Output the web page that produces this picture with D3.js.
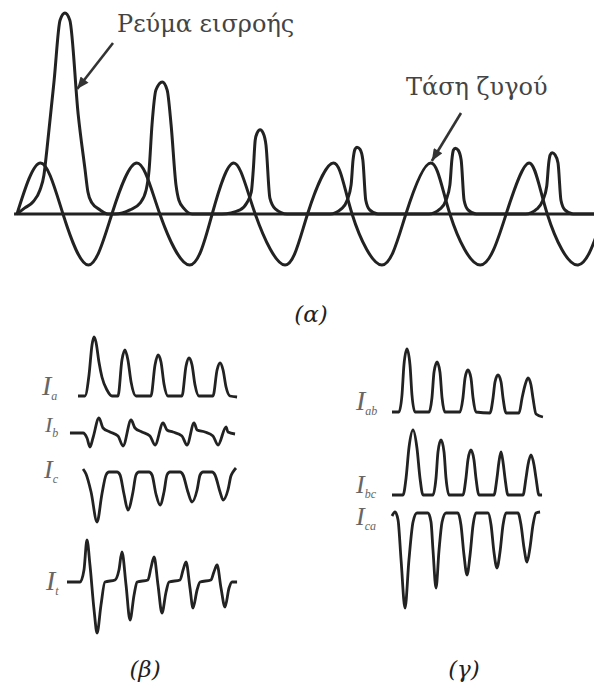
<!DOCTYPE html>
<html>
<head>
<meta charset="utf-8">
<script src="https://cdn.jsdelivr.net/npm/d3@7/dist/d3.min.js"></script>
<style>
html, body { margin: 0; padding: 0; background: #fff; }
svg { display: block; }
</style>
</head>
<body>
<svg></svg>
<script>
// (α) time in ms, bus voltage and inrush current in p.u. of voltage peak
var busVoltage = [[0,0],[4.8,1],[9.4,0],[14.6,-1],[19.4,0],[24.5,1],[29.2,0],[35.3,-1],[39.9,0],[44.3,1],[48.7,0],[54.8,-1],[59.4,0],[64.7,1],[68.5,0],[74.6,-1],[79.5,0],[84.6,1],[88.5,0],[94.7,-1],[100,0],[104.7,1],[108.4,0],[114.7,-1],[120,0],[124.7,1]];
var inrushCurrent = [
  [0,0],[1.6,0.12],[3.3,0.24],[4.7,0.47],[5.5,0.76],[6.1,1.25],[7.6,2.63],[8.8,3.8],[9.8,3.94],[10.8,3.8],[12.5,1.96],[13.9,0.88],[14.5,0.43],[15.3,0.22],[17,0.08],[18.6,0],
  [20,0],[23.1,0.08],[25.2,0.22],[26.4,0.47],[27,0.86],[27.6,1.75],[28.4,2.43],[29.7,2.59],[30.7,2.43],[31.5,1.75],[32.5,0.57],[33.1,0.27],[34.2,0.1],[35.8,0],
  [41.9,0],[45.6,0.08],[47,0.22],[47.9,0.43],[48.3,0.86],[48.7,1.45],[49.1,1.59],[49.7,1.65],[50.3,1.59],[50.9,1.35],[51.7,0.31],[52.8,0.1],[55.2,0],
  [64,0],[66.3,0.1],[67.5,0.27],[68.3,0.57],[68.7,1.06],[69.1,1.27],[69.5,1.31],[70.1,1.27],[70.7,1.06],[71.3,0.27],[72.1,0.08],[73.8,0],
  [84.2,0],[86.5,0.1],[87.7,0.27],[88.5,0.57],[88.9,1.06],[89.2,1.25],[89.6,1.29],[90.2,1.25],[90.8,1.06],[91.4,0.27],[92.2,0.08],[93.9,0],
  [104,0],[106.3,0.1],[107.5,0.27],[108.3,0.55],[108.7,1.0],[109,1.16],[109.4,1.2],[110,1.16],[110.6,1.0],[111.2,0.27],[112,0.08],[113.7,0],[122,0]
];

// (β) line currents, time in ms
var currentA = [[0,0],[4.4,0],[7,0.42],[8.9,1.02],[10.2,1.18],[11.4,1.08],[13.3,0.68],[15.2,0.38],[18.4,0.12],[21.6,0],
  [25.4,0],[27.9,0.72],[29.8,0.92],[31.7,0.72],[33.7,0.28],[36.8,0],
  [46.3,0],[48.9,0.62],[50.8,0.82],[52.7,0.68],[54.6,0.24],[57.1,0],
  [66,0],[68.6,0.6],[70.5,0.76],[72.4,0.62],[74.3,0.22],[76.8,0],
  [85.7,0],[88.3,0.52],[90.2,0.66],[92.1,0.52],[94,0.18],[96.5,0],[101,-0.02]];
var currentB = [[-5.1,0],[3.2,0],[5.7,-0.1],[7.6,-0.28],[9.5,-0.1],[13.3,0.3],[15.9,0.1],[20.3,0.02],[25.4,-0.06],
  [28.6,-0.26],[33.7,0.26],[36.2,0.1],[40.6,0.02],[45.7,-0.06],
  [48.9,-0.24],[54,0.2],[56.5,0.06],[60.3,0.02],[66,-0.06],
  [69.2,-0.24],[73.7,0.2],[75.6,0.06],[80.6,0.02],[85.7,-0.06],
  [88.9,-0.24],[94,0.12],[95.2,0.02],[99.7,-0.02]];
var currentC = [[3.2,0.06],[5.1,-0.04],[8.3,-0.4],[12.1,-1],[15.2,-0.44],[17.8,-0.06],[19.7,0],
  [24.8,0],[26.7,-0.06],[29.2,-0.44],[31.7,-0.76],[34.9,-0.4],[36.8,-0.06],[38.7,0],
  [45.1,0],[47,-0.06],[49.5,-0.44],[52.1,-0.66],[54.6,-0.4],[56.5,-0.06],[58.4,0],
  [64.8,0],[66.7,-0.06],[69.8,-0.4],[72.4,-0.6],[75.6,-0.36],[77.5,-0.06],[79.4,0],
  [85.1,0],[87,-0.06],[90.2,-0.4],[92.1,-0.56],[95.2,-0.36],[97.1,-0.08],[98.4,0],[100.3,0.08]];
var currentT = [[-7,0],[1.3,0],[3.8,0.24],[5.7,0.84],[7.6,0.34],[10.2,-0.56],[12.1,-1.02],[14.6,-0.46],[17.1,0],
  [23.5,0.04],[26,0.24],[27.9,0.6],[30.5,-0.06],[33,-0.76],[35.6,-0.26],[37.5,0],
  [44.4,0.04],[46.3,0.28],[48.3,0.5],[50.8,-0.06],[53.3,-0.62],[55.9,-0.2],[57.8,0],
  [64.8,0.04],[66.7,0.24],[68.6,0.4],[71.1,-0.12],[73,-0.52],[75.6,-0.16],[77.5,0],
  [84.4,0.04],[86.3,0.2],[88.3,0.34],[90.8,-0.12],[93.3,-0.5],[95.9,-0.12],[97.8,0],[101,0]];

// (γ) delta currents, time in ms
var currentAB = [[0,0.02],[4.6,0.02],[6.6,0.36],[7.9,0.96],[9.9,1.28],[11.9,0.96],[13.2,0.36],[15.2,0.02],
  [24.5,0.02],[26.4,0.3],[27.8,0.82],[29.8,1.02],[31.7,0.82],[33.1,0.3],[35,0.02],
  [44.9,0.02],[46.9,0.3],[48.3,0.7],[50.2,0.86],[52.2,0.7],[53.6,0.3],[55.5,0.02],
  [64.8,0],[66.8,0.3],[68.1,0.62],[70.1,0.76],[72.1,0.62],[73.4,0.3],[75.4,0],
  [84,0],[86,0.3],[88,0.56],[89.9,0.7],[91.9,0.56],[93.2,0.3],[95.2,-0.02],[99.8,-0.08]];
var currentBC = [[0,0],[7.3,0],[9.3,0.34],[11.2,0.94],[13.9,1.3],[16.5,0.94],[18.5,0.34],[20.5,0],
  [27.1,0],[29.1,0.34],[30.4,0.86],[32.4,1.1],[34.4,0.86],[35.7,0.34],[37.7,0],
  [46.9,0],[48.9,0.34],[50.2,0.7],[52.2,0.9],[54.2,0.7],[55.5,0.34],[57.5,0],
  [67.4,0],[69.4,0.34],[70.7,0.66],[72.1,0.86],[73.4,0.66],[74.7,0.34],[76.7,0],
  [86.6,0],[88.6,0.34],[89.9,0.6],[91.9,0.8],[93.9,0.6],[95.2,0.34],[97.2,0],[99.2,0]];
var currentCA = [[0,-0.06],[2,0.02],[4,-0.14],[6,-0.94],[8.6,-1.9],[11.2,-0.94],[13.9,-0.18],[16.5,0],
  [23.8,0],[25.8,-0.18],[27.1,-0.74],[29.1,-1.5],[31.1,-0.74],[33.1,-0.18],[35.7,0],
  [43.6,0],[45.6,-0.24],[47.6,-0.84],[49.6,-1.24],[51.6,-0.84],[53.6,-0.24],[55.5,0],
  [63.5,0],[65.5,-0.24],[67.4,-0.78],[69.4,-1.1],[71.4,-0.78],[73.4,-0.24],[75.4,0],
  [83.3,0],[85.3,-0.24],[87.3,-0.7],[89.3,-0.98],[91.2,-0.7],[93.2,-0.24],[95.2,0],[97.9,0.02]];

var panelB = [
  { name: "I", sub: "a", data: currentA },
  { name: "I", sub: "b", data: currentB },
  { name: "I", sub: "c", data: currentC },
  { name: "I", sub: "t", data: currentT }
];
var panelG = [
  { name: "I", sub: "ab", data: currentAB },
  { name: "I", sub: "bc", data: currentBC },
  { name: "I", sub: "ca", data: currentCA }
];
var panelTitles = ["(α)", "(β)", "(γ)"];

var width = 594, height = 688;
var ink = "#222";
var svg = d3.select("svg").attr("width", width).attr("height", height);
svg.append("rect").attr("width", width).attr("height", height).attr("fill", "#fff");

svg.append("defs").append("marker")
    .attr("id", "head")
    .attr("viewBox", "0 0 12 10")
    .attr("refX", 12).attr("refY", 5)
    .attr("markerUnits", "userSpaceOnUse")
    .attr("markerWidth", 14).attr("markerHeight", 10)
    .attr("orient", "auto")
  .append("path")
    .attr("d", "M0,0L12,5L0,10z")
    .attr("fill", "#333");

// ---- (α)
var xA = d3.scaleLinear().domain([0, 120]).range([17, 604]);
var yA = d3.scaleLinear().domain([-1, 1]).range([265, 163]);

svg.append("line")
    .attr("x1", xA(-0.6)).attr("x2", width)
    .attr("y1", yA(0)).attr("y2", yA(0))
    .attr("stroke", ink).attr("stroke-width", 3);

var lineA = function (curve) {
    return d3.line().x(function (d) { return xA(d[0]); }).y(function (d) { return yA(d[1]); }).curve(curve);
};
svg.append("path").datum(busVoltage)
    .attr("d", lineA(d3.curveNatural))
    .attr("fill", "none").attr("stroke", ink).attr("stroke-width", 3);
svg.append("path").datum(inrushCurrent)
    .attr("d", lineA(d3.curveMonotoneX))
    .attr("fill", "none").attr("stroke", ink).attr("stroke-width", 3)
    .attr("stroke-linejoin", "round");

var notes = [
  { text: "Ρεύμα εισροής", x: 117, y: 32, from: [113, 43], to: [12.3, 2.45] },
  { text: "Τάση ζυγού", x: 406, y: 95, from: [461, 113], to: [84.8, 1.04] }
];
notes.forEach(function (n) {
    svg.append("text").attr("x", n.x).attr("y", n.y).text(n.text)
        .attr("font-family", "DejaVu Serif").attr("font-size", 24).attr("fill", "#444");
    svg.append("line")
        .attr("x1", n.from[0]).attr("y1", n.from[1])
        .attr("x2", xA(n.to[0])).attr("y2", yA(n.to[1]))
        .attr("stroke", "#333").attr("stroke-width", 2.6)
        .attr("marker-end", "url(#head)");
});

// ---- small panels
function drawTrace(x, base, t, lx, ly, size) {
    var y = d3.scaleLinear().domain([0, 1]).range([base, base - 50]);
    svg.append("path").datum(t.data)
        .attr("d", d3.line().x(function (d) { return x(d[0]); }).y(function (d) { return y(d[1]); }).curve(d3.curveMonotoneX))
        .attr("fill", "none").attr("stroke", ink).attr("stroke-width", 2.8)
        .attr("stroke-linejoin", "round");
    var label = svg.append("text").attr("x", lx).attr("y", ly)
        .attr("font-family", "Liberation Serif").attr("font-style", "italic").attr("fill", "#666");
    label.append("tspan").attr("font-size", size).text(t.name);
    label.append("tspan").attr("font-size", 12).attr("dy", 5).text(t.sub);
}

var xB = d3.scaleLinear().domain([0, 100]).range([78, 235.5]);
var baseB = [396, 433, 472, 582];
var labelB = [[42, 395, 28], [45, 432, 22], [44, 478, 26], [46, 590, 28]];
panelB.forEach(function (t, i) { drawTrace(xB, baseB[i], t, labelB[i][0], labelB[i][1], labelB[i][2]); });

var xG = d3.scaleLinear().domain([0, 100]).range([392, 543.25]);
var baseG = [413, 495, 513];
var labelG = [[356, 410, 28], [356, 493, 26], [356, 525, 26]];
panelG.forEach(function (t, i) { drawTrace(xG, baseG[i], t, labelG[i][0], labelG[i][1], labelG[i][2]); });

// titles
var titlePos = [[311, 322], [145, 677], [464, 677]];
svg.selectAll("text.title").data(panelTitles).enter().append("text")
    .attr("class", "title")
    .attr("x", function (d, i) { return titlePos[i][0]; })
    .attr("y", function (d, i) { return titlePos[i][1]; })
    .attr("text-anchor", "middle")
    .attr("font-family", "DejaVu Serif").attr("font-style", "italic").attr("font-size", 23)
    .attr("fill", "#222")
    .text(function (d) { return d; });
</script>
</body>
</html>
